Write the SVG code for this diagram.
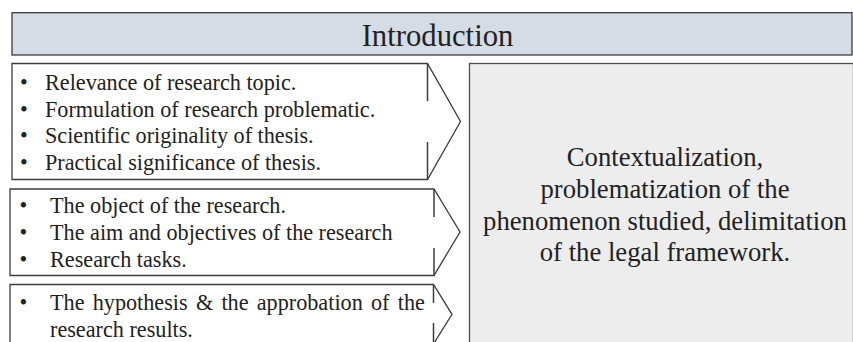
<svg xmlns="http://www.w3.org/2000/svg" width="853" height="342" viewBox="0 0 853 342">
<style>
.box{fill:#ffffff;stroke:#3c3c3c;stroke-width:1.3}
.seg{stroke:#3c3c3c;stroke-width:1.5;fill:none}
.t{font-family:Liberation Serif,Tinos,Times New Roman,DejaVu Serif,serif;font-size:22.2px;fill:#222}
.big{font-family:Liberation Serif,Tinos,Times New Roman,DejaVu Serif,serif;font-size:26.7px;fill:#222;text-anchor:middle}
.hd{font-family:Liberation Serif,Tinos,Times New Roman,DejaVu Serif,serif;font-size:30.7px;fill:#222;text-anchor:middle}
</style>
<rect width="853" height="342" fill="#ffffff"/>
<g id="header">
<rect x="12" y="12.7" width="840" height="42.3" fill="#d6dce5" stroke="#3c3c3c" stroke-width="1.3"/>
<text class="hd" x="437.5" y="46">Introduction</text>
</g>
<g id="context">
<rect x="469.5" y="63.5" width="384" height="290" fill="#ededed" stroke="#505050" stroke-width="1.3"/>
<text class="big" x="665" y="166">Contextualization,</text>
<text class="big" x="665" y="198">problematization of the</text>
<text class="big" x="665" y="230">phenomenon studied, delimitation</text>
<text class="big" x="665" y="261">of the legal framework.</text>
</g>
<g id="box1">
<path class="box" d="M12,63.5 H427.5 L460.5,121.5 L427.5,179.5 H12 Z"/>
<path class="seg" d="M427.5,63.5 V101 M427.5,142 V179.5"/>
<text class="t" x="20" y="90">•</text><text class="t" x="45" y="90">Relevance of research topic.</text>
<text class="t" x="20" y="116.7">•</text><text class="t" x="45" y="116.7">Formulation of research problematic.</text>
<text class="t" x="20" y="143.4">•</text><text class="t" x="45" y="143.4">Scientific originality of thesis.</text>
<text class="t" x="20" y="170">•</text><text class="t" x="45" y="170">Practical significance of thesis.</text>
</g>
<g id="box2">
<path class="box" d="M10,189 H434 L460,232 L434,275.5 H10 Z"/>
<path class="seg" d="M434,189 V217 M434,248 V275.5"/>
<text class="t" x="19.5" y="213">•</text><text class="t" x="50" y="213">The object of the research.</text>
<text class="t" x="19.5" y="240">•</text><text class="t" x="50" y="240">The aim and objectives of the research</text>
<text class="t" x="19.5" y="267">•</text><text class="t" x="50" y="267">Research tasks.</text>
</g>
<g id="box3">
<path class="box" d="M10,284.5 H433.5 L452,314.3 L433.5,344 H10 Z"/>
<path class="seg" d="M433.5,284.5 V303 M433.5,323 V344"/>
<text class="t" x="19.5" y="310">•</text><text class="t" x="50" y="310" word-spacing="2.7">The hypothesis &amp; the approbation of the</text>
<text class="t" x="50" y="336.7">research results.</text>
</g>
<g id="connectors"/>
</svg>
